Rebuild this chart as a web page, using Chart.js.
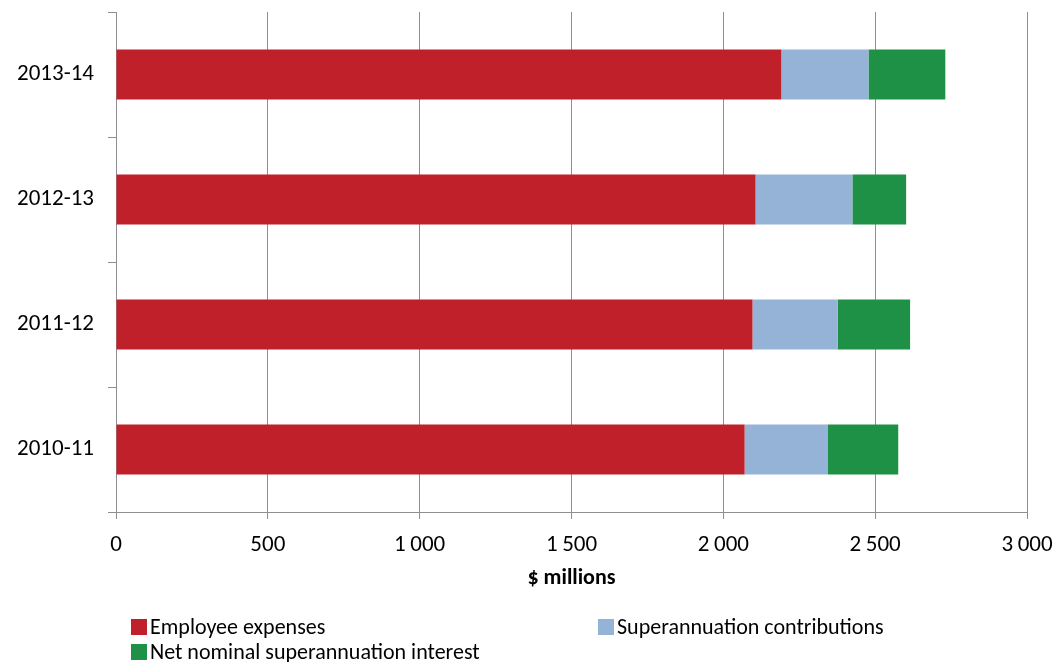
<!DOCTYPE html>
<html>
<head>
<meta charset="utf-8">
<script src="https://cdn.jsdelivr.net/npm/chart.js@4"></script>
<style>
  html, body { margin: 0; padding: 0; background: #ffffff; }
  #wrap { width: 1059px; height: 662px; position: relative; }
</style>
</head>
<body>
<div id="wrap"><canvas id="c" width="1059" height="662"></canvas></div>
<script>
// Financial years, listed top to bottom
const years = ['2013-14', '2012-13', '2011-12', '2010-11'];

// $ millions per component
const employeeExpenses = [2191, 2106, 2096, 2070];
const superContributions = [287, 319, 281, 273];
const netSuperInterest = [253, 177, 238, 233];

// x axis range and tick step
const xMin = 0;
const xMax = 3000;
const xStep = 500;

const seriesNames = ['Employee expenses', 'Superannuation contributions', 'Net nominal superannuation interest'];
const seriesColors = ['#C0202A', '#95B3D7', '#1F9146'];

const FONT = 'Carlito, Lato, sans-serif';
const GRID = '#8f8f8f';

// Two-column legend drawn under the axis title
const gridLegend = {
  id: 'gridLegend',
  afterDraw(chart) {
    const ctx = chart.ctx;
    const slots = [
      { x: 131, y: 627 },
      { x: 598, y: 627 },
      { x: 131, y: 652 }
    ];
    ctx.save();
    ctx.font = '22px ' + FONT;
    ctx.textBaseline = 'middle';
    ctx.textAlign = 'left';
    chart.data.datasets.forEach((ds, i) => {
      const s = slots[i];
      ctx.fillStyle = ds.backgroundColor;
      ctx.fillRect(s.x, s.y - 8, 16, 16);
      ctx.fillStyle = '#000';
      ctx.fillText(ds.label, s.x + 19, s.y + 1);
    });
    ctx.restore();
  }
};

const fmt = v => String(v).replace(/\B(?=(\d{3})+(?!\d))/g, '\u2009');

// Keep label overhang from shrinking the plot area; outer padding sets it instead
const noOverhang = s => {
  s.paddingTop = 0; s.paddingBottom = 0; s.paddingLeft = 0; s.paddingRight = 0;
};

new Chart(document.getElementById('c'), {
  type: 'bar',
  data: {
    labels: years,
    datasets: [
      { label: seriesNames[0], data: employeeExpenses, backgroundColor: seriesColors[0] },
      { label: seriesNames[1], data: superContributions, backgroundColor: seriesColors[1] },
      { label: seriesNames[2], data: netSuperInterest, backgroundColor: seriesColors[2] }
    ]
  },
  options: {
    indexAxis: 'y',
    responsive: false,
    animation: false,
    devicePixelRatio: 1,
    barPercentage: 0.4,
    categoryPercentage: 1,
    layout: { padding: { left: 0, right: 32, top: 12, bottom: 70 } },
    plugins: {
      legend: { display: false },
      tooltip: { enabled: false }
    },
    scales: {
      x: {
        stacked: true,
        min: xMin,
        max: xMax,
        ticks: {
          stepSize: xStep,
          color: '#000',
          font: { family: FONT, size: 23 },
          padding: 12,
          callback: v => fmt(v)
        },
        grid: {
          color: GRID,
          lineWidth: 1,
          drawTicks: true,
          tickLength: 7
        },
        border: { color: GRID, width: 1 },
        title: {
          display: true,
          text: '$ millions',
          color: '#000',
          font: { family: FONT, size: 22, weight: 'bold' },
          padding: { top: 0, bottom: 0 }
        },
        afterFit: s => { s.height = 80; noOverhang(s); }
      },
      y: {
        stacked: true,
        ticks: {
          color: '#000',
          font: { family: FONT, size: 23 },
          padding: 14
        },
        grid: {
          offset: true,
          drawOnChartArea: false,
          drawTicks: true,
          tickLength: 8,
          color: GRID
        },
        border: { color: GRID, width: 1 },
        afterFit: s => { s.width = 116; noOverhang(s); }
      }
    }
  },
  plugins: [gridLegend]
});
</script>
</body>
</html>
